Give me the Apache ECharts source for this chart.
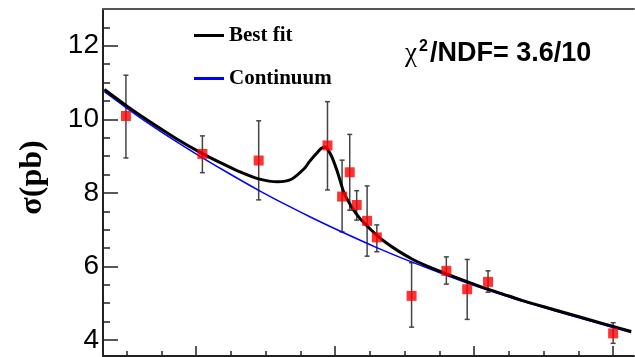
<!DOCTYPE html>
<html>
<head>
<meta charset="utf-8">
<script src="https://cdn.jsdelivr.net/npm/echarts@6/dist/echarts.min.js"></script>
<style>
html,body{margin:0;padding:0;background:#fff;}
#chart{width:635px;height:357px;}
</style>
</head>
<body>
<div id="chart"></div>
<script>
// ---- data ----
const energy = [3.899, 4.009, 4.090, 4.189, 4.210, 4.221, 4.231, 4.246, 4.260, 4.310, 4.360, 4.390, 4.420, 4.600];
const sigma  = [10.09, 9.06, 8.88, 9.29, 7.90, 8.56, 7.67, 7.24, 6.79, 5.20, 5.88, 5.38, 5.58, 4.18];
const sigmaHigh = [11.20, 9.55, 9.96, 10.48, 8.89, 9.59, 8.06, 8.19, 7.13, 6.10, 6.26, 6.19, 5.88, 4.47];
const sigmaLow  = [8.95, 8.55, 7.81, 8.08, 6.94, 7.53, 7.26, 6.28, 6.40, 4.35, 5.52, 4.56, 5.30, 3.91];

const fitX = [3.868, 3.899, 3.933, 3.971, 4.005, 4.034, 4.062, 4.090, 4.117, 4.137, 4.156, 4.163, 4.173, 4.180, 4.185, 4.194, 4.204, 4.213, 4.225, 4.235, 4.245, 4.257, 4.268, 4.290, 4.312, 4.336, 4.360, 4.408, 4.451, 4.470, 4.518, 4.566, 4.600, 4.626];
const fitY = [10.81, 10.38, 9.94, 9.48, 9.11, 8.83, 8.58, 8.38, 8.30, 8.37, 8.67, 8.85, 9.07, 9.21, 9.25, 9.03, 8.53, 7.99, 7.58, 7.32, 7.12, 6.90, 6.72, 6.43, 6.19, 5.98, 5.80, 5.46, 5.19, 5.07, 4.81, 4.55, 4.37, 4.23];

const contX = [3.868, 3.899, 3.933, 3.971, 4.005, 4.048, 4.090, 4.129, 4.168, 4.206, 4.259, 4.309, 4.360, 4.408, 4.451, 4.518, 4.566, 4.626];
const contY = [10.75, 10.32, 9.87, 9.40, 9.00, 8.52, 8.07, 7.68, 7.31, 6.97, 6.52, 6.13, 5.76, 5.43, 5.16, 4.78, 4.52, 4.20];

const yMajorTicks = [4, 6, 8, 10, 12];
const yMinorTicks = [4.5, 5, 5.5, 6.5, 7, 7.5, 8.5, 9, 9.5, 10.5, 11, 11.5, 12.5];
const xMajorTicks = [4.0, 4.2, 4.4, 4.6];
const xMinorTicks = [3.9, 3.95, 4.05, 4.1, 4.15, 4.25, 4.3, 4.35, 4.45, 4.5, 4.55];

const seriesNames = ['Best fit', 'Continuum'];
const yTitle = 'σ(pb)';

// ---- chart ----
const xMin = 3.866, xMax = 4.630, yMin = 3.565, yMax = 13;
const chart = echarts.init(document.getElementById('chart'), null, {renderer: 'canvas'});

const errData = energy.map((e, i) => [e, sigmaLow[i], sigmaHigh[i]]);
const pts = energy.map((e, i) => [e, sigma[i]]);
const fitData = fitX.map((x, i) => [x, fitY[i]]);
const contData = contX.map((x, i) => [x, contY[i]]);

const tickStyle = {color: '#222', width: 1.5};
const hiddenAxis = {axisLine: {show: false}, axisLabel: {show: false}, splitLine: {show: false}};

chart.setOption({
  animation: false,
  backgroundColor: '#fff',
  grid: {left: 103, right: 1, top: 9, bottom: 1, containLabel: false},
  xAxis: [
    {type: 'value', min: xMin, max: xMax, position: 'bottom',
     axisLine: {show: true, lineStyle: {color: '#222', width: 2}},
     axisTick: {show: true, inside: true, length: 10, customValues: xMajorTicks, lineStyle: tickStyle},
     axisLabel: {show: false}, splitLine: {show: false}},
    Object.assign({type: 'value', min: xMin, max: xMax, position: 'bottom',
     axisTick: {show: true, inside: true, length: 5, customValues: xMinorTicks, lineStyle: tickStyle}}, hiddenAxis),
    {type: 'value', min: xMin, max: xMax, position: 'top',
     axisLine: {show: true, lineStyle: {color: '#555', width: 2}},
     axisTick: {show: false}, axisLabel: {show: false}, splitLine: {show: false}}
  ],
  yAxis: [
    {type: 'value', min: yMin, max: yMax, position: 'left',
     axisLine: {show: true, lineStyle: {color: '#222', width: 2}},
     axisTick: {show: true, inside: true, length: 15, customValues: yMajorTicks, lineStyle: tickStyle},
     axisLabel: {show: true, customValues: yMajorTicks, fontSize: 28, fontFamily: 'Liberation Sans', color: '#000', margin: 4},
     splitLine: {show: false},
     name: yTitle, nameLocation: 'middle', nameGap: 54, nameRotate: 90,
     nameTextStyle: {fontFamily: 'Liberation Serif', fontWeight: 'bold', fontSize: 32, color: '#000', padding: [0, 0, 0, 10]}},
    Object.assign({type: 'value', min: yMin, max: yMax, position: 'left',
     axisTick: {show: true, inside: true, length: 7, customValues: yMinorTicks, lineStyle: tickStyle}}, hiddenAxis)
  ],
  legend: {
    show: true, orient: 'vertical', left: 194, top: 25, padding: 0, itemWidth: 30, itemHeight: 3, itemGap: 22,
    icon: 'rect', selectedMode: false,
    textStyle: {fontFamily: 'Liberation Serif', fontWeight: 'bold', fontSize: 21, color: '#000'},
    data: seriesNames
  },
  graphic: [
    {type: 'text', left: 405, top: 40, style: {text: 'χ', font: '27px "Liberation Serif"', fill: '#000'}},
    {type: 'text', left: 419, top: 39, style: {text: '2', font: 'bold 16px "Liberation Sans"', fill: '#000'}},
    {type: 'text', left: 430, top: 40, style: {text: '/NDF= 3.6/10', font: 'bold 27px "Liberation Sans"', fill: '#000'}}
  ],
  series: [
    {type: 'custom', name: 'errors', xAxisIndex: 0, yAxisIndex: 0, z: 2, silent: true,
     data: errData,
     renderItem: function (params, api) {
       const x = api.value(0);
       const top = api.coord([x, api.value(2)]);
       const bot = api.coord([x, api.value(1)]);
       const st = {stroke: '#444', lineWidth: 1.5};
       return {type: 'group', children: [
         {type: 'line', shape: {x1: top[0], y1: top[1], x2: bot[0], y2: bot[1]}, style: st},
         {type: 'line', shape: {x1: top[0] - 2.5, y1: top[1], x2: top[0] + 2.5, y2: top[1]}, style: st},
         {type: 'line', shape: {x1: bot[0] - 2.5, y1: bot[1], x2: bot[0] + 2.5, y2: bot[1]}, style: st}
       ]};
     }},
    {type: 'line', name: seriesNames[1], data: contData, xAxisIndex: 0, yAxisIndex: 0, z: 3,
     symbol: 'none', smooth: 0.3, color: '#0000ff', lineStyle: {color: '#0000ff', width: 1.5}},
    {type: 'line', name: seriesNames[0], data: fitData, xAxisIndex: 0, yAxisIndex: 0, z: 4,
     symbol: 'none', smooth: 0.3, color: '#000', lineStyle: {color: '#000', width: 3}},
    {type: 'scatter', name: 'data', data: pts, xAxisIndex: 0, yAxisIndex: 0, z: 5,
     symbol: 'rect', symbolSize: 10, itemStyle: {color: '#ff0000'}}
  ]
});
</script>
</body>
</html>
